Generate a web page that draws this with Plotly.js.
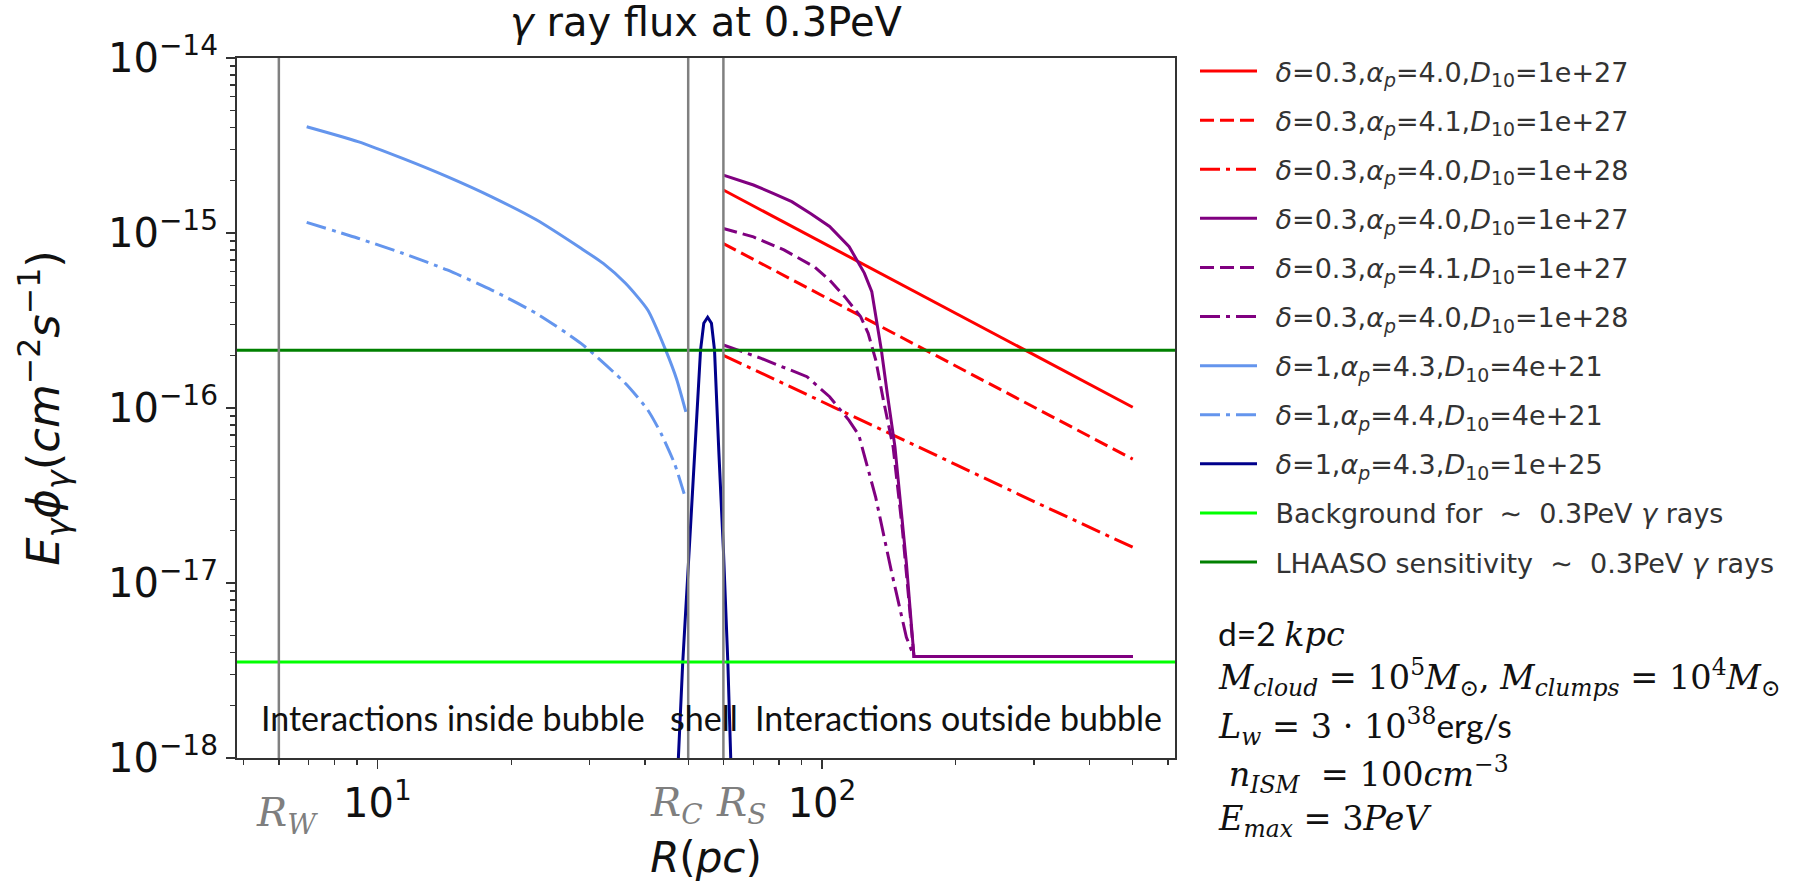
<!DOCTYPE html>
<html>
<head>
<meta charset="utf-8">
<script src="https://cdn.plot.ly/plotly-3.0.1.min.js"></script>
<style>
  html, body { margin: 0; padding: 0; background: #ffffff; }
  #chart { width: 1800px; height: 882px; }
</style>
</head>
<body>
<div id="chart"></div>
<script>
// Characteristic radii (pc): wind termination shock, contact discontinuity, outer shock
const R_W = 6, R_C = 50, R_S = 60;

// Axis extent, log10 of R (pc) and of the flux
const xLogRange = [0.684, 2.794];
const yLogRange = [-18, -14];

// Tick labels
const xTickVals = [10, 100];
const xTickText = ['10<sup>1</sup>', '10<sup>2</sup>'];
const yTickVals = [1e-18, 1e-17, 1e-16, 1e-15, 1e-14];
const yTickText = ['10<sup>\u221218</sup>', '10<sup>\u221217</sup>', '10<sup>\u221216</sup>',
                   '10<sup>\u221215</sup>', '10<sup>\u221214</sup>'];

// Outside the bubble, delta = 0.3 (red family)
const rOut = [60, 100, 200, 300, 500];
const fluxRedA = [1.76e-15, 8.85e-16, 3.48e-16, 2.01e-16, 1.01e-16];
const fluxRedB = [8.7e-16, 4.4e-16, 1.75e-16, 1.01e-16, 5.1e-17];
const fluxRedC = [2.0e-16, 1.09e-16, 4.75e-17, 2.92e-17, 1.6e-17];

// Outside the bubble, with clumps (purple family)
const rPurpleA = [60, 70.1, 77.4, 85.5, 94.4, 104, 115.1, 124.5, 129.4, 132.1, 136, 140.2,
                  145.9, 154.8, 161, 250, 500];
const fluxPurpleA = [2.14e-15, 1.88e-15, 1.69e-15, 1.51e-15, 1.29e-15, 1.09e-15, 8.35e-16,
                     5.9e-16, 4.62e-16, 3.3e-16, 2.14e-16, 1.21e-16, 6.0e-17, 1.3e-17,
                     3.8e-18, 3.8e-18, 3.8e-18];
const rPurpleB = [60, 70.1, 82.1, 96.2, 104, 112.7, 122.1, 127, 132.1, 137.4, 144.5, 151.7,
                  161, 250, 500];
const fluxPurpleB = [1.06e-15, 9.5e-16, 8.0e-16, 6.4e-16, 5.38e-16, 4.3e-16, 3.33e-16,
                     2.67e-16, 1.88e-16, 1.11e-16, 6.0e-17, 2.0e-17, 3.8e-18, 3.8e-18, 3.8e-18];
const rPurpleC = [60, 73, 92.5, 104, 115, 121, 132, 143, 154.8, 161, 250, 500];
const fluxPurpleC = [2.29e-16, 1.92e-16, 1.51e-16, 1.16e-16, 8.5e-17, 7.0e-17, 3.1e-17,
                     1.19e-17, 4.9e-18, 3.8e-18, 3.8e-18, 3.8e-18];

// Inside the bubble, delta = 1 (light blue)
const rInA = [6.93, 9.04, 11.39, 14.35, 18.07, 22.77, 28.69, 32.2, 36.14, 40.55, 44.5, 47.13, 49.4];
const fluxBlueA = [4.05e-15, 3.33e-15, 2.67e-15, 2.10e-15, 1.61e-15, 1.19e-15, 8.18e-16,
                   6.7e-16, 5.16e-16, 3.63e-16, 2.14e-16, 1.45e-16, 9.5e-17];
const rInB = [6.93, 9.04, 11.39, 14.35, 18.07, 22.77, 28.69, 36.14, 40.55, 43.5, 46.6, 49.4];
const fluxBlueB = [1.15e-15, 9.33e-16, 7.66e-16, 6.15e-16, 4.72e-16, 3.47e-16, 2.34e-16,
                   1.38e-16, 9.74e-17, 7.1e-17, 4.8e-17, 3.0e-17];

// Shell between R_C and R_S (dark blue)
const rShell = [46.5, 48.6, 50.3, 52.0, 53.3, 54.2, 55.3, 56.4, 57.3, 58.6, 60.0, 61.4, 63.0];
const fluxShell = [3e-19, 3.5e-18, 1.6e-17, 7e-17, 2.14e-16, 3.05e-16, 3.3e-16, 3.05e-16,
                   2.14e-16, 5.6e-17, 1.55e-17, 3.5e-18, 4e-19];

// Reference levels
const fluxBackground = 3.54e-18;
const fluxLhaaso = 2.14e-16;

const names = [
  '<i>δ</i>=0.3,<i>α</i><sub><i>p</i></sub>=4.0,<i>D</i><sub>10</sub>=1e+27',
  '<i>δ</i>=0.3,<i>α</i><sub><i>p</i></sub>=4.1,<i>D</i><sub>10</sub>=1e+27',
  '<i>δ</i>=0.3,<i>α</i><sub><i>p</i></sub>=4.0,<i>D</i><sub>10</sub>=1e+28',
  '<i>δ</i>=0.3,<i>α</i><sub><i>p</i></sub>=4.0,<i>D</i><sub>10</sub>=1e+27',
  '<i>δ</i>=0.3,<i>α</i><sub><i>p</i></sub>=4.1,<i>D</i><sub>10</sub>=1e+27',
  '<i>δ</i>=0.3,<i>α</i><sub><i>p</i></sub>=4.0,<i>D</i><sub>10</sub>=1e+28',
  '<i>δ</i>=1,<i>α</i><sub><i>p</i></sub>=4.3,<i>D</i><sub>10</sub>=4e+21',
  '<i>δ</i>=1,<i>α</i><sub><i>p</i></sub>=4.4,<i>D</i><sub>10</sub>=4e+21',
  '<i>δ</i>=1,<i>α</i><sub><i>p</i></sub>=4.3,<i>D</i><sub>10</sub>=1e+25',
  'Background for  \u223C  0.3PeV <i>γ</i> rays',
  'LHAASO sensitivity  \u223C  0.3PeV <i>γ</i> rays'
];

const RED = '#ff0000', PURPLE = '#800080', LIGHTBLUE = '#6495ed', DARKBLUE = '#00008b';
const LIME = '#00ff00', GREEN = '#008000';
const DASH = '14px,6px';
const DASHDOT = '20px,6px,4px,6px';
const LW = 3;

const xSpan = [Math.pow(10, xLogRange[0]), Math.pow(10, xLogRange[1])];

function line(x, y, color, dash, i, shape) {
  return {
    x: x, y: y, type: 'scatter', mode: 'lines',
    // en space keeps a gap between the legend sample and its label
    name: '\u2002' + names[i], legendgroup: 'g' + i,
    line: {color: color, width: LW, dash: dash, shape: shape || 'linear', smoothing: 0.6},
    hoverinfo: 'skip'
  };
}

const traces = [
  line(rOut, fluxRedA, RED, 'solid', 0),
  line(rOut, fluxRedB, RED, DASH, 1),
  line(rOut, fluxRedC, RED, DASHDOT, 2),
  line(rPurpleA, fluxPurpleA, PURPLE, 'solid', 3),
  line(rPurpleB, fluxPurpleB, PURPLE, DASH, 4),
  line(rPurpleC, fluxPurpleC, PURPLE, DASHDOT, 5),
  line(rInA, fluxBlueA, LIGHTBLUE, 'solid', 6, 'spline'),
  line(rInB, fluxBlueB, LIGHTBLUE, DASHDOT, 7, 'spline'),
  line(rShell, fluxShell, DARKBLUE, 'solid', 8),
  line(xSpan, [fluxBackground, fluxBackground], LIME, 'solid', 9),
  line(xSpan, [fluxLhaaso, fluxLhaaso], GREEN, 'solid', 10)
];

// Plot box in pixels
const PL = 237, PR = 1175, PT = 58, PB = 758;
const px = X => (X - PL) / (PR - PL);
const py = Y => (PB - Y) / (PB - PT);

const SERIF = 'DejaVu Serif';
const SANS2 = 'Lato';
const GREY = '#7f7f7f';

const radii = [R_W, R_C, R_S];
const radiusLabels = ['<i>R</i><sub><i>W</i></sub>', '<i>R</i><sub><i>C</i></sub>', '<i>R</i><sub><i>S</i></sub>'];
const radiusShift = [8, -12, 18];
const radiusLabelY = [815, 805, 805];

const shapes = radii.map(r => ({
  type: 'line', xref: 'x', yref: 'paper', x0: r, x1: r, y0: 0, y1: 1,
  line: {color: '#808080', width: 2.5}, layer: 'above'
}));

const annotations = [];
radii.forEach((r, i) => annotations.push({
  xref: 'x', yref: 'paper', x: Math.log10(r), y: py(radiusLabelY[i]), xshift: radiusShift[i],
  text: radiusLabels[i], showarrow: false, xanchor: 'center', yanchor: 'middle',
  font: {family: SERIF, size: 40, color: GREY}
}));

const regionTexts = [
  ['Interactions inside bubble', 259],
  ['shell', 668],
  ['Interactions outside bubble', 753]
];
regionTexts.forEach(([t, X]) => annotations.push({
  xref: 'paper', yref: 'paper', x: px(X), y: py(717), text: t, showarrow: false,
  xanchor: 'left', yanchor: 'middle', font: {family: SANS2, size: 34, color: '#111'}
}));

const paramLines = [
  ['<span style="font-family:Lato">d=2 </span><i>kpc</i>', 633],
  ['<i>M</i><sub><i>cloud</i></sub> = 10<sup>5</sup><i>M</i><sub>\u2299</sub>, <i>M</i><sub><i>clumps</i></sub> = 10<sup>4</sup><i>M</i><sub>\u2299</sub>', 677],
  ['<i>L</i><sub><i>w</i></sub> = 3 \u00B7 10<sup>38</sup><span style="font-family:Lato">erg/s</span>', 726],
  [' <i>n</i><sub><i>ISM</i></sub>  = 100<i>cm</i><sup>\u22123</sup>', 774],
  ['<i>E</i><sub><i>max</i></sub> = 3<i>PeV</i>', 821]
];
paramLines.forEach(([t, Y]) => annotations.push({
  xref: 'paper', yref: 'paper', x: px(1216), y: py(Y), text: t, showarrow: false,
  xanchor: 'left', yanchor: 'middle', font: {family: SERIF, size: 33.5, color: '#111'}
}));

const axisCommon = {
  type: 'log', showgrid: false, zeroline: false, showline: true, mirror: true,
  linecolor: '#333', linewidth: 2, ticks: 'outside', ticklen: 9, tickwidth: 1.6,
  tickcolor: '#333', tickmode: 'array', automargin: false,
  tickfont: {family: 'DejaVu Sans', size: 40, color: '#111'},
  minor: {ticks: 'outside', ticklen: 5, tickwidth: 1.3, tickcolor: '#333', dtick: 'D1', showgrid: false}
};

const layout = {
  width: 1800, height: 882,
  margin: {l: PL, r: 1800 - PR, t: PT, b: 882 - PB},
  paper_bgcolor: '#ffffff', plot_bgcolor: '#ffffff',
  showlegend: true,
  title: {
    text: '<i>γ</i> ray flux at 0.3PeV',
    font: {family: 'DejaVu Sans', size: 40, color: '#111'},
    x: 0.5, xref: 'paper', xanchor: 'center',
    y: 1 - 22 / 882, yref: 'container', yanchor: 'middle'
  },
  xaxis: Object.assign({}, axisCommon, {
    range: xLogRange, tickvals: xTickVals, ticktext: xTickText,
    title: {text: '<i>R</i>(<i>pc</i>)', font: {family: 'DejaVu Sans', size: 42, color: '#111'}, standoff: 29}
  }),
  yaxis: Object.assign({}, axisCommon, {
    range: yLogRange, tickvals: yTickVals, ticktext: yTickText,
    title: {text: '<i>E</i><sub><i>γ</i></sub><i>ϕ</i><sub><i>γ</i></sub>(<i>cm</i><sup>\u22122</sup><i>s</i><sup>\u22121</sup>)',
            font: {family: 'DejaVu Sans', size: 45, color: '#111'}, standoff: 34}
  }),
  legend: {
    xref: 'paper', yref: 'paper', x: px(1195), xanchor: 'left', y: py(47), yanchor: 'top',
    font: {family: 'DejaVu Sans', size: 27, color: '#333'},
    bgcolor: 'rgba(0,0,0,0)', borderwidth: 0, traceorder: 'grouped', tracegroupgap: 11,
    itemwidth: 57, maxheight: 860
  },
  shapes: shapes,
  annotations: annotations
};

Plotly.newPlot('chart', traces, layout, {displayModeBar: false, staticPlot: true});
</script>
</body>
</html>
